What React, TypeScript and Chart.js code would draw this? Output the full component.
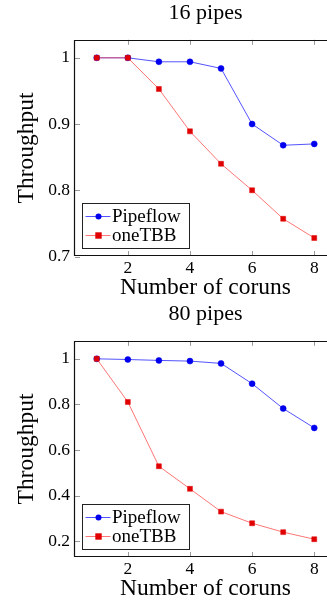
import React, { useEffect, useRef } from "react";
import { Chart, registerables } from "chart.js";

Chart.register(...registerables);

const coruns = [1, 2, 3, 4, 5, 6, 7, 8];
const pipeflow16 = [1.0, 1.0, 0.994, 0.994, 0.984, 0.9, 0.868, 0.87];
const onetbb16 = [1.0, 1.0, 0.953, 0.889, 0.84, 0.8, 0.757, 0.728];
const pipeflow80 = [1.0, 0.997, 0.993, 0.99, 0.98, 0.891, 0.782, 0.697];
const onetbb80 = [1.0, 0.811, 0.529, 0.43, 0.33, 0.279, 0.24, 0.209];
const xTicks = [2, 4, 6, 8];
const yTicks16 = [0.7, 0.8, 0.9, 1];
const yTicks80 = [0.2, 0.4, 0.6, 0.8, 1];
const seriesNames = ["Pipeflow", "oneTBB"];
const titles = ["16 pipes", "80 pipes"];
const xTitle = "Number of coruns";
const yTitle = "Throughput";

const FONT = "'Liberation Serif', 'Times New Roman', serif";

const framePlugin = {
  id: "frame",
  beforeDatasetsDraw(chart: any) {
    const { ctx, chartArea: a, scales } = chart;
    ctx.save();
    ctx.strokeStyle = "#9a9a9a";
    ctx.lineWidth = 1;
    const len = 5;
    ctx.beginPath();
    scales.x.ticks.forEach((t: any) => {
      const px = Math.round(scales.x.getPixelForValue(t.value)) + 0.5;
      ctx.moveTo(px, a.bottom);
      ctx.lineTo(px, a.bottom - len);
      ctx.moveTo(px, a.top);
      ctx.lineTo(px, a.top + len);
    });
    scales.y.ticks.forEach((t: any) => {
      const py = Math.round(scales.y.getPixelForValue(t.value)) + 0.5;
      ctx.moveTo(a.left, py);
      ctx.lineTo(a.left + len, py);
    });
    ctx.stroke();
    ctx.restore();
  },
  afterDatasetsDraw(chart: any) {
    const { ctx, chartArea: a } = chart;
    ctx.save();
    ctx.strokeStyle = "#111";
    ctx.lineWidth = 1.2;
    const l = Math.round(a.left) - 0.5;
    const t = Math.round(a.top) + 0.5;
    const b = Math.round(a.bottom) - 0.5;
    ctx.beginPath();
    ctx.moveTo(a.right + 2, t);
    ctx.lineTo(l, t);
    ctx.lineTo(l, b);
    ctx.lineTo(a.right + 2, b);
    ctx.stroke();
    ctx.restore();
  },
};

const legendPlugin = {
  id: "boxLegend",
  afterDraw(chart: any) {
    const { ctx, chartArea: a } = chart;
    const left = Math.round(a.left) + 7.5;
    const bottom = Math.round(a.bottom) - 7.5;
    const w = 107;
    const h = 45;
    const top = bottom - h;
    ctx.save();
    ctx.fillStyle = "#fff";
    ctx.fillRect(left, top, w, h);
    ctx.strokeStyle = "#222";
    ctx.lineWidth = 1;
    ctx.strokeRect(left, top, w, h);
    const rows = [top + 13, top + 32];
    chart.data.datasets.forEach((ds: any, i: number) => {
      const y = rows[i];
      ctx.strokeStyle = ds.borderColor;
      ctx.lineWidth = 1;
      ctx.beginPath();
      ctx.moveTo(left + 3, y);
      ctx.lineTo(left + 28, y);
      ctx.stroke();
      ctx.fillStyle = ds.pointBackgroundColor;
      if (ds.pointStyle === "rect") {
        ctx.fillRect(left + 16 - 3.2, y - 3.2, 6.4, 6.4);
      } else {
        ctx.beginPath();
        ctx.arc(left + 16, y, 3, 0, Math.PI * 2);
        ctx.fill();
      }
      ctx.fillStyle = "#000";
      ctx.font = `19px ${FONT}`;
      ctx.textBaseline = "middle";
      ctx.textAlign = "left";
      ctx.fillText(ds.label, left + 29.5, y + 1);
    });
    ctx.restore();
  },
};

function makeConfig(title: string, pf: number[], tbb: number[], yTicks: number[], ymin: number, ymax: number): any {
  return {
    type: "line",
    data: {
      labels: coruns,
      datasets: [
        {
          label: seriesNames[0],
          data: coruns.map((x, i) => ({ x, y: pf[i] })),
          borderColor: "rgba(40,40,255,0.8)",
          borderWidth: 1,
          pointStyle: "circle",
          pointRadius: 3,
          pointBackgroundColor: "#0000ee",
          pointBorderColor: "#0000ee",
          pointBorderWidth: 0.5,
          order: 2,
        },
        {
          label: seriesNames[1],
          data: coruns.map((x, i) => ({ x, y: tbb[i] })),
          borderColor: "rgba(255,60,60,0.7)",
          borderWidth: 1,
          pointStyle: "rect",
          pointRadius: 3.5,
          pointBackgroundColor: "#e00000",
          pointBorderColor: "#e00000",
          pointBorderWidth: 0.5,
          order: 1,
        },
      ],
    },
    options: {
      responsive: false,
      animation: false,
      devicePixelRatio: 1,
      layout: { padding: { left: 0, right: 24, top: 0, bottom: 0 } },
      plugins: {
        legend: { display: false },
        tooltip: { enabled: false },
        title: {
          display: true,
          fullSize: false,
          text: title,
          color: "#000",
          font: { family: FONT, size: 22, weight: "normal", lineHeight: 1.2 },
          padding: { top: 0.2, bottom: 13.2 },
        },
      },
      scales: {
        x: {
          type: "linear",
          min: 0.3,
          max: 8.7,
          grid: { display: false, drawTicks: false },
          border: { display: false },
          afterBuildTicks: (s: any) => {
            s.ticks = xTicks.map((v) => ({ value: v }));
          },
          afterFit: (s: any) => {
            s.height = 44;
          },
          ticks: {
            padding: 2,
            color: "#000",
            font: { family: FONT, size: 17.5, lineHeight: 1.2 },
            callback: (v: any) => String(v),
            maxRotation: 0,
          },
          title: {
            display: true,
            text: xTitle,
            color: "#000",
            font: { family: FONT, size: 23.5, lineHeight: 1 },
            padding: { top: 0, bottom: 0.5 },
          },
        },
        y: {
          type: "linear",
          min: ymin,
          max: ymax,
          grid: { display: false, drawTicks: false },
          border: { display: false },
          afterBuildTicks: (s: any) => {
            s.ticks = yTicks.map((v) => ({ value: v }));
          },
          afterFit: (s: any) => {
            s.width = 75;
          },
          ticks: {
            padding: 5,
            color: "#000",
            font: { family: FONT, size: 17.5, lineHeight: 1.2 },
            callback: (v: any) => String(v),
          },
          title: {
            display: true,
            text: yTitle,
            color: "#000",
            font: { family: FONT, size: 23.5, lineHeight: 1 },
            padding: { top: 15.5, bottom: 0 },
          },
        },
      },
    },
    plugins: [framePlugin, legendPlugin],
  };
}

function ChartCanvas({ cfg, top }: { cfg: () => any; top: number }) {
  const ref = useRef<HTMLCanvasElement | null>(null);
  useEffect(() => {
    if (!ref.current) return;
    const chart = new Chart(ref.current, cfg());
    return () => chart.destroy();
  }, []);
  return (
    <canvas
      ref={ref}
      width={360}
      height={300}
      style={{ position: "absolute", left: 0, top, width: 360, height: 300 }}
    />
  );
}

export default function App() {
  return (
    <div
      style={{
        position: "fixed",
        left: 0,
        top: 0,
        width: 327,
        height: 603,
        overflow: "hidden",
        background: "#fff",
      }}
    >
      <ChartCanvas top={0} cfg={() => makeConfig(titles[0], pipeflow16, onetbb16, yTicks16, 0.7008, 1.0272)} />
      <ChartCanvas top={301} cfg={() => makeConfig(titles[1], pipeflow80, onetbb80, yTicks80, 0.131, 1.079)} />
    </div>
  );
}
